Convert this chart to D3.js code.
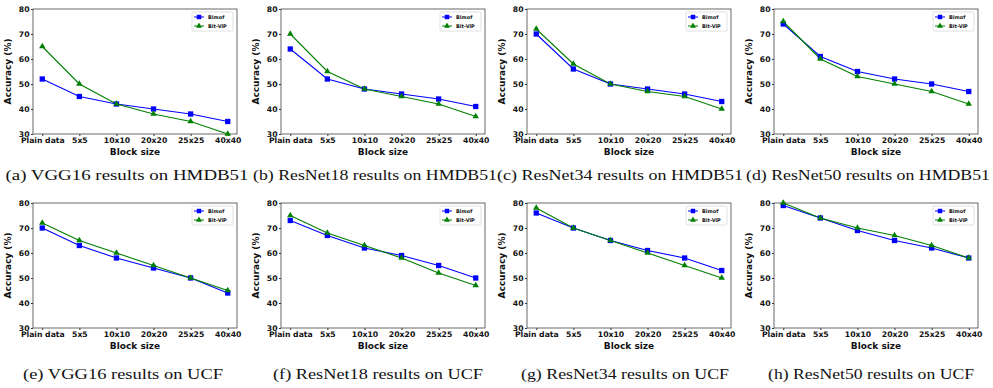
<!DOCTYPE html>
<html>
<head>
<meta charset="utf-8">
<script src="https://cdn.jsdelivr.net/npm/d3@7"></script>
<style>
  body { margin: 0; background: #fff; }
  svg { display: block; }
</style>
</head>
<body>
<div id="chart"></div>
<script>
var blockSizes = ['Plain data', '5x5', '10x10', '20x20', '25x25', '40x40'];
var yTicks = [30, 40, 50, 60, 70, 80];
var seriesNames = ['Bimof', 'Bit-ViP'];

// accuracy (%) per block size
var vgg16Hmdb = [[52, 45, 42, 40, 38, 35], [65, 50, 42, 38, 35, 30]];
var resnet18Hmdb = [[64, 52, 48, 46, 44, 41], [70, 55, 48, 45, 42, 37]];
var resnet34Hmdb = [[70, 56, 50, 48, 46, 43], [72, 58, 50, 47, 45, 40]];
var resnet50Hmdb = [[74, 61, 55, 52, 50, 47], [75, 60, 53, 50, 47, 42]];
var vgg16Ucf = [[70, 63, 58, 54, 50, 44], [72, 65, 60, 55, 50, 45]];
var resnet18Ucf = [[73, 67, 62, 59, 55, 50], [75, 68, 63, 58, 52, 47]];
var resnet34Ucf = [[76, 70, 65, 61, 58, 53], [78, 70, 65, 60, 55, 50]];
var resnet50Ucf = [[79, 74, 69, 65, 62, 58], [80, 74, 70, 67, 63, 58]];

var captions = [
  '(a) VGG16 results on HMDB51', '(b) ResNet18 results on HMDB51',
  '(c) ResNet34 results on HMDB51', '(d) ResNet50 results on HMDB51',
  '(e) VGG16 results on UCF', '(f) ResNet18 results on UCF',
  '(g) ResNet34 results on UCF', '(h) ResNet50 results on UCF'
];

var panelData = [vgg16Hmdb, resnet18Hmdb, resnet34Hmdb, resnet50Hmdb,
  vgg16Ucf, resnet18Ucf, resnet34Ucf, resnet50Ucf];

var width = 993, height = 388;
var colors = ['#0000ff', '#008000'];
var plotLefts = [33, 281, 527, 774];
var plotW = 204;
var rows = [{top: 9, bottom: 134, cap: 180}, {top: 203, bottom: 328, cap: 379}];
var capCenters = [[127, 375, 620, 868], [123, 378, 625, 871]];
var capLengths = [[243, 244, 246, 244], [200, 210, 208, 206]];

var svg = d3.select('#chart').append('svg')
  .attr('width', width)
  .attr('height', height);

panelData.forEach(function(series, i) {
  var row = rows[Math.floor(i / 4)], col = i % 4;
  var left = plotLefts[col];

  var x = d3.scalePoint()
    .domain(blockSizes)
    .range([left, left + plotW])
    .padding(0.25);
  var y = d3.scaleLinear()
    .domain([30, 80])
    .range([row.bottom, row.top]);

  var g = svg.append('g');

  // axes
  g.append('g')
    .attr('transform', 'translate(0,' + row.bottom + ')')
    .call(d3.axisBottom(x).tickSize(2).tickPadding(1.5))
    .call(function(a) { a.select('.domain').remove(); })
    .selectAll('text')
    .style('font-family', 'DejaVu Sans').style('font-weight', 'bold')
    .style('font-size', '7.7px').attr('fill', '#111');

  g.append('g')
    .attr('transform', 'translate(' + left + ',0)')
    .call(d3.axisLeft(y).tickValues(yTicks).tickSize(2).tickPadding(1.5))
    .call(function(a) { a.select('.domain').remove(); })
    .selectAll('text')
    .style('font-family', 'DejaVu Sans').style('font-weight', 'bold')
    .style('font-size', '7.7px').attr('fill', '#111');

  g.selectAll('.tick line').attr('stroke', '#333');

  g.append('rect')
    .attr('x', left).attr('y', row.top)
    .attr('width', plotW).attr('height', row.bottom - row.top)
    .attr('fill', 'none').attr('stroke', '#444').attr('stroke-width', 0.8);

  g.append('text')
    .attr('x', left + plotW / 2).attr('y', row.bottom + 21)
    .attr('text-anchor', 'middle')
    .style('font-family', 'DejaVu Sans').style('font-weight', 'bold')
    .style('font-size', '9px').attr('fill', '#111')
    .text('Block size');

  g.append('text')
    .attr('transform', 'translate(' + (left - 22) + ',' + ((row.top + row.bottom) / 2) + ') rotate(-90)')
    .attr('text-anchor', 'middle')
    .style('font-family', 'DejaVu Sans').style('font-weight', 'bold')
    .style('font-size', '9px').attr('fill', '#111')
    .text('Accuracy (%)');

  // lines and markers
  var line = d3.line()
    .x(function(d, k) { return x(blockSizes[k]); })
    .y(function(d) { return y(d); });

  series.forEach(function(vals, s) {
    g.append('path')
      .datum(vals)
      .attr('d', line)
      .attr('fill', 'none')
      .attr('stroke', colors[s])
      .attr('stroke-width', 1.1);
  });

  series.forEach(function(vals, s) {
    var sym = d3.symbol().type(s === 0 ? d3.symbolSquare : d3.symbolTriangle).size(s === 0 ? 28 : 18);
    g.selectAll('.m' + s)
      .data(vals)
      .enter().append('path')
      .attr('transform', function(d, k) { return 'translate(' + x(blockSizes[k]) + ',' + y(d) + ')'; })
      .attr('d', sym)
      .attr('fill', colors[s]);
  });

  // legend
  var lx = left + plotW - 45, ly = row.top + 3;
  g.append('rect')
    .attr('x', lx).attr('y', ly).attr('width', 41).attr('height', 19).attr('rx', 1.5)
    .attr('fill', '#fff').attr('stroke', '#ccc').attr('stroke-width', 0.6);
  seriesNames.forEach(function(name, s) {
    var yy = ly + 5 + s * 9;
    g.append('line')
      .attr('x1', lx + 2).attr('x2', lx + 12).attr('y1', yy).attr('y2', yy)
      .attr('stroke', colors[s]).attr('stroke-width', 1);
    g.append('path')
      .attr('transform', 'translate(' + (lx + 7) + ',' + yy + ')')
      .attr('d', d3.symbol().type(s === 0 ? d3.symbolSquare : d3.symbolTriangle).size(s === 0 ? 20 : 15))
      .attr('fill', colors[s]);
    g.append('text')
      .attr('x', lx + 16).attr('y', yy + 1.8)
      .style('font-family', 'DejaVu Sans').style('font-weight', 'bold')
      .style('font-size', '5px').attr('fill', '#111')
      .text(name);
  });

  // caption
  svg.append('text')
    .attr('x', capCenters[Math.floor(i / 4)][col]).attr('y', row.cap)
    .attr('text-anchor', 'middle')
    .attr('textLength', capLengths[Math.floor(i / 4)][col])
    .attr('lengthAdjust', 'spacingAndGlyphs')
    .style('font-family', 'Liberation Serif').style('font-size', '15px').attr('fill', '#111')
    .text(captions[i]);
});
</script>
</body>
</html>
